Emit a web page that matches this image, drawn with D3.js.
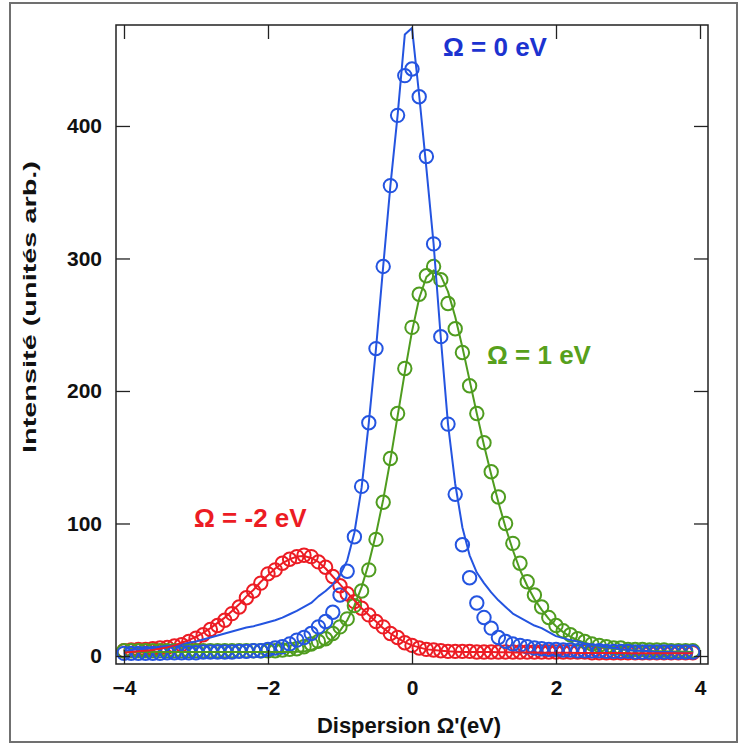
<!DOCTYPE html>
<html>
<head>
<meta charset="utf-8">
<script src="https://cdn.jsdelivr.net/npm/d3@7"></script>
<style>
  html, body { margin: 0; padding: 0; background: #fff; }
  svg { display: block; }
  text { font-family: "Liberation Sans", Arial, sans-serif; }
</style>
</head>
<body>
<div id="chart"></div>
<script>
// ---- data (energy grid in eV, intensities in arb. units) ----
const energies = [-4.0,-3.9,-3.8,-3.7,-3.6,-3.5,-3.4,-3.3,-3.2,-3.1,
  -3.0,-2.9,-2.8,-2.7,-2.6,-2.5,-2.4,-2.3,-2.2,-2.1,
  -2.0,-1.9,-1.8,-1.7,-1.6,-1.5,-1.4,-1.3,-1.2,-1.1,
  -1.0,-0.9,-0.8,-0.7,-0.6,-0.5,-0.4,-0.3,-0.2,-0.1,
  0.0,0.1,0.2,0.3,0.4,0.5,0.6,0.7,0.8,0.9,
  1.0,1.1,1.2,1.3,1.4,1.5,1.6,1.7,1.8,1.9,
  2.0,2.1,2.2,2.3,2.4,2.5,2.6,2.7,2.8,2.9,
  3.0,3.1,3.2,3.3,3.4,3.5,3.6,3.7,3.8,3.9];

// Omega = 0 eV (blue)
const pointsOmega0 = [2,2,2,2,2,2,2.5,2.5,2.5,2.5,
  2.5,3,3,3,3,3,3.5,3.5,4,4,
  5,6,7,9,12,14,17,22,26,33,
  46,64,90,128,176,232,294,355,408,438,
  443,422,377,311,241,175,122,84,59,40,
  29,21,14,11,9,8,7,6,5.5,5,
  5,4.5,4.5,4,4,4,4,3.5,3.5,3.5,
  3.5,3,3,3,3,3,3,3,3,3];
const fitOmega0 = [4,4.5,5,5.5,6,7,7.5,8,9,10,
  11,12.5,14,15.5,17,18.5,20,21.5,22.5,24,
  25.5,27,29,31.5,34,37,40,45,49,54,
  61,72,93,127,176,232,294,355,408,469,
  474,423,368,311,240,175,130,97,76,63,
  55,48,42,37,32,29,26,23,21,18,
  15,13.5,12,11,9.5,8.5,7.5,6.5,6,5,
  4.5,4,4,3.5,3,3,3,2.5,2.5,2];

// Omega = 1 eV (green)
const pointsOmega1 = [4,4,4,4,4,4,4,4,4,4,
  4,4,4,4,4,4,4,4,4,4,
  4,4,4.5,5,5.5,7,9,11,13,17,
  22,28,38,49,65,88,116,149,183,217,
  248,273,287,294,284,266,247,229,204,183,
  161,139,120,100,85,70,56,46,37,29,
  23,19,16,13,11,9,8,7,6,6,
  5,5,5,4.5,4.5,4.5,4,4,4,4];
const fitOmega1 = [3,3,3,3,3,3,3,3,3,3,
  3,3,3,3,3,3,3,3,3,3,
  3,3,3,3,3.2,3.5,4.5,6.5,9,13,
  19,27,38,52,70,92,118,148,181,214,
  245,270,286,291,287,275,256,233,208,183,
  159,137,116,97,80,65,53,43,35,28,
  22.5,18,14.5,12,10,8.5,7,6,5.5,5,
  4.5,4.2,4,3.8,3.6,3.5,3.4,3.3,3.2,3.1];

// Omega = -2 eV (red)
const pointsOmegaM2 = [4,4.5,5,5,5.5,6,6.5,7.5,8.5,11,
  13.5,16,20,23,27,32,37,44,49,55,
  62,65,70,73,75,76,75,71,67,60,
  53,47,41,36,31,26,22,17,14,10,
  8,6,5,4.5,4,3.5,3.5,3.5,3.5,3,
  3,3,3,3,3,3,3,3,3,3,
  3,3,3,3,3,2.5,2.5,2.5,2.5,2.5,
  2.5,2.5,2.5,2.5,2.5,2.5,2.5,2.5,2.5,2.5];
const fitOmegaM2 = [2.5,3,3.5,4,4.5,5.5,6.5,8,10,12,
  14.5,17.5,21,25,29,34,39,45,50,56,
  61,66,70,73,75,75.5,74,71,66,60,
  54,48,42,36,31,26,21,17,13.5,10.5,
  8,6.5,5,4.5,4,3.5,3.2,3,3,3,
  3,3,2.8,2.8,2.7,2.7,2.6,2.6,2.5,2.5,
  2.5,2.4,2.4,2.3,2.3,2.3,2.2,2.2,2.2,2.2,
  2.1,2.1,2.1,2.1,2.1,2.1,2.1,2.1,2.1,2.1];

const xTicks = [-4, -2, 0, 2, 4];
const yTicks = [0, 100, 200, 300, 400];
const seriesLabels = ["Ω = 0 eV", "Ω = 1 eV", "Ω = -2 eV"];
const xTitle = "Dispersion Ω'(eV)";
const yTitle = "Intensité (unités arb.)";

// ---- layout ----
const W = 745, H = 749;
const plot = { left: 116, right: 708, top: 25, bottom: 664 };
const colors = {
  blue: "#2454e0", blueText: "#1c33d0",
  green: "#4f9c1f", greenText: "#57a01c",
  red: "#ec1c24", redText: "#ec1c24"
};

const svg = d3.select("#chart").append("svg")
  .attr("width", W).attr("height", H);

svg.append("rect").attr("x", 10).attr("y", 3).attr("width", 727).attr("height", 739)
  .attr("fill", "#fff").attr("stroke", "#707070").attr("stroke-width", 2);

const x = d3.scaleLinear().domain([-4.111, 4.111]).range([plot.left, plot.right]);
const y = d3.scaleLinear().domain([-6.04, 476.2]).range([plot.bottom, plot.top]);

// series data
const mk = arr => energies.map((e, i) => ({ e, v: arr[i] }));
const series = [
  { pts: mk(pointsOmegaM2), fit: mk(fitOmegaM2), color: colors.red },
  { pts: mk(pointsOmega1), fit: mk(fitOmega1), color: colors.green },
  { pts: mk(pointsOmega0), fit: mk(fitOmega0), color: colors.blue }
];

svg.append("clipPath").attr("id", "clip").append("rect")
  .attr("x", plot.left).attr("y", plot.top)
  .attr("width", plot.right - plot.left).attr("height", plot.bottom - plot.top);

const g = svg.append("g").attr("clip-path", "url(#clip)");

// circles: red, green, blue
series.forEach(s => {
  g.append("g").selectAll("circle").data(s.pts).join("circle")
    .attr("cx", d => x(d.e)).attr("cy", d => y(d.v)).attr("r", 6.7)
    .attr("fill", "none").attr("stroke", s.color).attr("stroke-width", 2);
});
// fit lines: green, blue, red (red on top)
const line = d3.line().x(d => x(d.e)).y(d => y(d.v));
[series[1], series[2], series[0]].forEach(s => {
  g.append("path").datum(s.fit).attr("d", line)
    .attr("fill", "none").attr("stroke", s.color).attr("stroke-width", 2)
    .attr("stroke-linejoin", "round");
});

// axes with inward ticks
const TL = 14;
const axB = svg.append("g").attr("transform", `translate(0,${plot.bottom})`)
  .call(d3.axisBottom(x).tickValues(xTicks).tickFormat(d3.format("d"))
    .tickSizeInner(-TL).tickSizeOuter(0).tickPadding(16));
const axT = svg.append("g").attr("transform", `translate(0,${plot.top})`)
  .call(d3.axisTop(x).tickValues(xTicks).tickFormat("").tickSizeInner(-TL).tickSizeOuter(0));
const axL = svg.append("g").attr("transform", `translate(${plot.left},0)`)
  .call(d3.axisLeft(y).tickValues(yTicks).tickFormat(d3.format("d"))
    .tickSizeInner(-TL).tickSizeOuter(0).tickPadding(14));
const axR = svg.append("g").attr("transform", `translate(${plot.right},0)`)
  .call(d3.axisRight(y).tickValues(yTicks).tickFormat("").tickSizeInner(-TL).tickSizeOuter(0));
[axB, axT, axL, axR].forEach(a => {
  a.select(".domain").remove();
  a.selectAll(".tick line").attr("stroke", "#222").attr("stroke-width", 1.3);
});
[axB, axL].forEach(a => a.selectAll(".tick text")
  .attr("font-size", 21).attr("font-weight", "bold").attr("fill", "#111")
  .attr("font-family", "'Liberation Sans', Arial, sans-serif"));

// frame
svg.append("rect").attr("x", plot.left).attr("y", plot.top)
  .attr("width", plot.right - plot.left).attr("height", plot.bottom - plot.top)
  .attr("fill", "none").attr("stroke", "#222").attr("stroke-width", 1.5);

// axis titles
svg.append("text").attr("x", 409).attr("y", 733)
  .attr("text-anchor", "middle").attr("font-size", 22).attr("font-weight", "bold")
  .attr("fill", "#111").text(xTitle);
svg.append("text").attr("transform", "translate(36,307) rotate(-90)")
  .attr("text-anchor", "middle").attr("font-size", 19).attr("font-weight", "bold")
  .attr("textLength", 292).attr("lengthAdjust", "spacingAndGlyphs")
  .attr("fill", "#111").text(yTitle);

// series labels
const labelPos = [
  { x: 443, y: 56, c: colors.blueText },
  { x: 487, y: 364, c: colors.greenText },
  { x: 194, y: 527, c: colors.redText }
];
seriesLabels.forEach((t, i) => {
  svg.append("text").attr("x", labelPos[i].x).attr("y", labelPos[i].y)
    .attr("font-size", 26).attr("font-weight", "bold").attr("fill", labelPos[i].c)
    .text(t);
});
</script>
</body>
</html>
